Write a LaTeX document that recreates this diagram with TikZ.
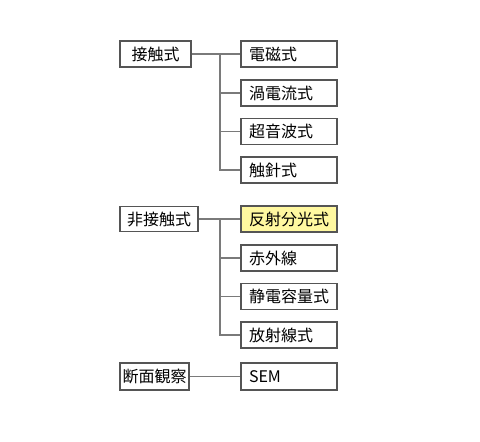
\documentclass[tikz,border=0pt]{standalone}
\usepackage{fontspec}
\setmainfont{Noto Sans CJK JP}
\definecolor{boxline}{HTML}{555555}
\definecolor{conline}{HTML}{7A7A7A}
\definecolor{hilite}{HTML}{FFF8A0}
\begin{document}
\begin{tikzpicture}[x=1pt,y=-1pt,
  box/.style={draw=boxline,line width=1.8pt,rectangle,inner sep=0pt,font=\fontsize{16}{18}\selectfont},
  leftbox/.style={box,align=center},
  rightbox/.style={box,minimum width=96pt,minimum height=26pt,text width=80pt,align=left,inner xsep=0pt},
  conn/.style={draw=conline,line width=1.8pt}]
\useasboundingbox (0,0) rectangle (480,442);
% left boxes
\node[leftbox,minimum width=71pt,minimum height=26pt] (a) at (155.5,54) {接触式};
\node[leftbox,minimum width=78pt,minimum height=25pt] (b) at (159,219) {非接触式};
\node[leftbox,minimum width=69pt,minimum height=27pt] (c) at (154.5,376.5) {断面観察};
% right boxes
\node[rightbox] (a1) at (289,54) {電磁式};
\node[rightbox] (a2) at (289,93) {渦電流式};
\node[rightbox] (a3) at (289,131.5) {超音波式};
\node[rightbox] (a4) at (289,170) {触針式};
\node[rightbox,fill=hilite] (b1) at (289,219) {反射分光式};
\node[rightbox] (b2) at (289,258) {赤外線};
\node[rightbox] (b3) at (289,296.5) {静電容量式};
\node[rightbox] (b4) at (289,335) {放射線式};
\node[rightbox,minimum height=27pt] (c1) at (289,376.5) {SEM};
% connectors
\coordinate (ja) at (220,54);
\coordinate (jb) at (220,219);
\draw[conn] (a.east) -- (a1.west);
\draw[conn] (ja) -- (ja |- a4.west) -- (a4.west);
\draw[conn] (ja |- a2.west) -- (a2.west);
\draw[conn] (ja |- a3.west) -- (a3.west);
\draw[conn] (b.east) -- (b1.west);
\draw[conn] (jb) -- (jb |- b4.west) -- (b4.west);
\draw[conn] (jb |- b2.west) -- (b2.west);
\draw[conn] (jb |- b3.west) -- (b3.west);
\draw[conn] (c.east) -- (c1.west);
\end{tikzpicture}
\end{document}
